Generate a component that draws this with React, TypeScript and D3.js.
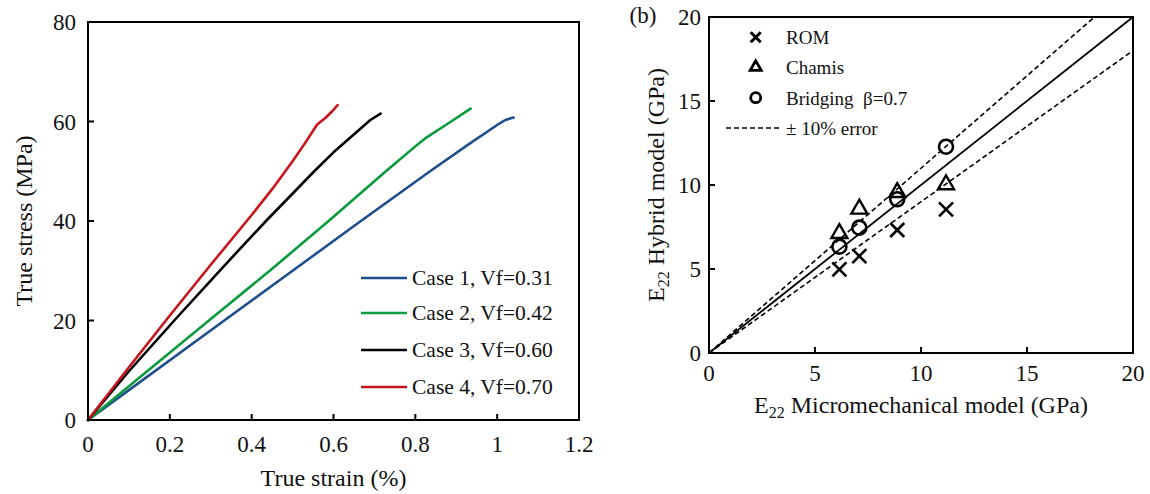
import React from "react";
import * as d3 from "d3";

// ---------- Data (a): true stress-strain curves ----------
const caseNames = ["Case 1, Vf=0.31", "Case 2, Vf=0.42", "Case 3, Vf=0.60", "Case 4, Vf=0.70"];
const caseColors = ["#1f4e8c", "#0b9a3e", "#000000", "#c8141c"];
const case1: [number, number][] = [[0, 0], [0.1, 6.0], [0.333, 20], [0.5, 30], [0.667, 40], [0.836, 50], [0.93, 55.4], [1.0, 59.3], [1.02, 60.3], [1.04, 60.8]];
const case2: [number, number][] = [[0, 0], [0.1, 6.8], [0.3, 20.3], [0.45, 30.4], [0.588, 40], [0.728, 50], [0.8, 55], [0.824, 56.6], [0.88, 59.6], [0.935, 62.6]];
const case3: [number, number][] = [[0, 0], [0.1, 9.8], [0.213, 20.2], [0.325, 30.3], [0.435, 40], [0.553, 50], [0.6, 53.8], [0.658, 58], [0.69, 60.3], [0.715, 61.6]];
const case4: [number, number][] = [[0, 0], [0.1, 10.6], [0.2, 21], [0.3, 31.2], [0.4, 41.2], [0.45, 46.4], [0.5, 52], [0.53, 55.6], [0.56, 59.4], [0.58, 60.7], [0.595, 61.9], [0.61, 63.3]];
const caseSeries = [case1, case2, case3, case4];
const strainTicks = [0, 0.2, 0.4, 0.6, 0.8, 1, 1.2];
const stressTicks = [0, 20, 40, 60, 80];

// ---------- Data (b): E22 comparison ----------
const microE22 = [6.15, 7.09, 8.88, 11.18];
const romE22 = [4.98, 5.77, 7.32, 8.55];
const chamisE22 = [7.16, 8.61, 9.6, 10.06];
const bridgingE22 = [6.33, 7.46, 9.15, 12.28];
const e22Ticks = [0, 5, 10, 15, 20];
const errorBand = [1.1, 0.9];

const FONT = "'Liberation Serif', 'Times New Roman', serif";

export default function App() {
  const xL = d3.scaleLinear().domain([0, 1.2]).range([88, 579]);
  const yL = d3.scaleLinear().domain([0, 80]).range([420, 22]);
  const xR = d3.scaleLinear().domain([0, 20]).range([709, 1133]);
  const yR = d3.scaleLinear().domain([0, 20]).range([353, 17]);

  const lineL = d3.line<[number, number]>().x((d) => xL(d[0])).y((d) => yL(d[1]));

  const tickLen = 6;
  const legendRows = [278, 313, 350, 387];

  const cross = (cx: number, cy: number, r: number, sw: number, key: string) => (
    <g key={key} stroke="#000" strokeWidth={sw} strokeLinecap="butt">
      <line x1={cx - r} y1={cy - r} x2={cx + r} y2={cy + r} />
      <line x1={cx - r} y1={cy + r} x2={cx + r} y2={cy - r} />
    </g>
  );
  const tri = (cx: number, cy: number, r: number, sw: number, key: string) => {
    const h = r * 1.73;
    return (
      <polygon key={key} points={`${cx},${cy - h * 0.62} ${cx - r},${cy + h * 0.38} ${cx + r},${cy + h * 0.38}`}
        fill="none" stroke="#000" strokeWidth={sw} strokeLinejoin="miter" />
    );
  };
  const circ = (cx: number, cy: number, r: number, sw: number, key: string) => (
    <circle key={key} cx={cx} cy={cy} r={r} fill="none" stroke="#000" strokeWidth={sw} />
  );

  return (
    <svg width={1150} height={494} style={{ position: "absolute", left: 0, top: 0, background: "#fff" }} fontFamily={FONT}>
      <rect width={1150} height={494} fill="#fff" />
      {/* ---------------- Left panel ---------------- */}
      <g>
        {caseSeries.map((s, i) => (
          <path key={i} d={lineL(s) || ""} fill="none" stroke={caseColors[i]} strokeWidth={2.6} strokeLinejoin="round" strokeLinecap="round" />
        ))}
        <rect x={xL(0)} y={yL(80)} width={xL(1.2) - xL(0)} height={yL(0) - yL(80)} fill="none" stroke="#000" strokeWidth={2} />
        {strainTicks.slice(1, -1).map((t) => (
          <line key={t} x1={xL(t)} x2={xL(t)} y1={yL(0)} y2={yL(0) - tickLen} stroke="#000" strokeWidth={2} />
        ))}
        {stressTicks.slice(1, -1).map((t) => (
          <line key={t} x1={xL(0)} x2={xL(0) + tickLen} y1={yL(t)} y2={yL(t)} stroke="#000" strokeWidth={2} />
        ))}
        {strainTicks.map((t) => (
          <text key={t} x={xL(t)} y={452} textAnchor="middle" fontSize={23} fill="#111">{d3.format("~g")(t)}</text>
        ))}
        {stressTicks.map((t) => (
          <text key={t} x={76} y={yL(t) + 8} textAnchor="end" fontSize={23} fill="#111">{t}</text>
        ))}
        <text x={(xL(0) + xL(1.2)) / 2} y={486} textAnchor="middle" fontSize={24} fill="#111">True strain (%)</text>
        <text transform={`translate(32, ${(yL(0) + yL(80)) / 2}) rotate(-90)`} textAnchor="middle" fontSize={24} fill="#111">True stress (MPa)</text>
        {caseNames.map((n, i) => (
          <g key={n}>
            <line x1={361} x2={407} y1={legendRows[i]} y2={legendRows[i]} stroke={caseColors[i]} strokeWidth={2.6} />
            <text x={412} y={legendRows[i] + 7} fontSize={21.5} fill="#111">{n}</text>
          </g>
        ))}
      </g>

      {/* ---------------- Right panel ---------------- */}
      <g>
        <line x1={xR(0)} y1={yR(0)} x2={xR(20)} y2={yR(20)} stroke="#000" strokeWidth={1.8} />
        {errorBand.map((f) => {
          const xe = Math.min(20, 20 / f);
          return (
            <line key={f} x1={xR(0)} y1={yR(0)} x2={xR(xe)} y2={yR(xe * f)} stroke="#000" strokeWidth={1.6} strokeDasharray="5,3" />
          );
        })}
        <rect x={xR(0)} y={yR(20)} width={xR(20) - xR(0)} height={yR(0) - yR(20)} fill="none" stroke="#000" strokeWidth={2} />
        {e22Ticks.slice(1, -1).map((t) => (
          <g key={t}>
            <line x1={xR(t)} x2={xR(t)} y1={yR(0)} y2={yR(0) - tickLen} stroke="#000" strokeWidth={2} />
            <line x1={xR(0)} x2={xR(0) + tickLen} y1={yR(t)} y2={yR(t)} stroke="#000" strokeWidth={2} />
          </g>
        ))}
        {e22Ticks.map((t) => (
          <g key={t}>
            <text x={xR(t)} y={381} textAnchor="middle" fontSize={23} fill="#111">{t}</text>
            <text x={701} y={yR(t) + 8} textAnchor="end" fontSize={23} fill="#111">{t}</text>
          </g>
        ))}
        <text x={643} y={23} textAnchor="middle" fontSize={23} fill="#111">(b)</text>
        <text x={(xR(0) + xR(20)) / 2} y={413} textAnchor="middle" fontSize={24} fill="#111">
          E<tspan fontSize={16} dy={5}>22</tspan><tspan dy={-5}> Micromechanical model (GPa)</tspan>
        </text>
        <text transform={`translate(664, ${(yR(0) + yR(20)) / 2}) rotate(-90)`} textAnchor="middle" fontSize={24} fill="#111">
          E<tspan fontSize={16} dy={5}>22</tspan><tspan dy={-5}> Hybrid model (GPa)</tspan>
        </text>

        {microE22.map((x, i) => cross(xR(x), yR(romE22[i]), 7, 2.6, "x" + i))}
        {microE22.map((x, i) => tri(xR(x), yR(chamisE22[i]), 8, 2.4, "t" + i))}
        {microE22.map((x, i) => circ(xR(x), yR(bridgingE22[i]), 7, 2.6, "c" + i))}

        {/* legend */}
        {cross(755.7, 37.3, 5, 3, "lx")}
        {tri(755.7, 66.7, 5.5, 2.8, "lt")}
        {circ(755.7, 97.7, 5, 2.8, "lc")}
        <line x1={726} x2={781} y1={128} y2={128} stroke="#000" strokeWidth={1.6} strokeDasharray="5,3" />
        <text x={786} y={37.3 + 7} fontSize={19} fill="#111">ROM</text>
        <text x={786} y={66.7 + 7} fontSize={19} fill="#111">Chamis</text>
        <text x={786} y={97.7 + 7} fontSize={19} fill="#111" style={{ whiteSpace: "pre" }}>{"Bridging  β=0.7"}</text>
        <text x={786} y={128 + 7} fontSize={19} fill="#111">± 10% error</text>
      </g>
    </svg>
  );
}
